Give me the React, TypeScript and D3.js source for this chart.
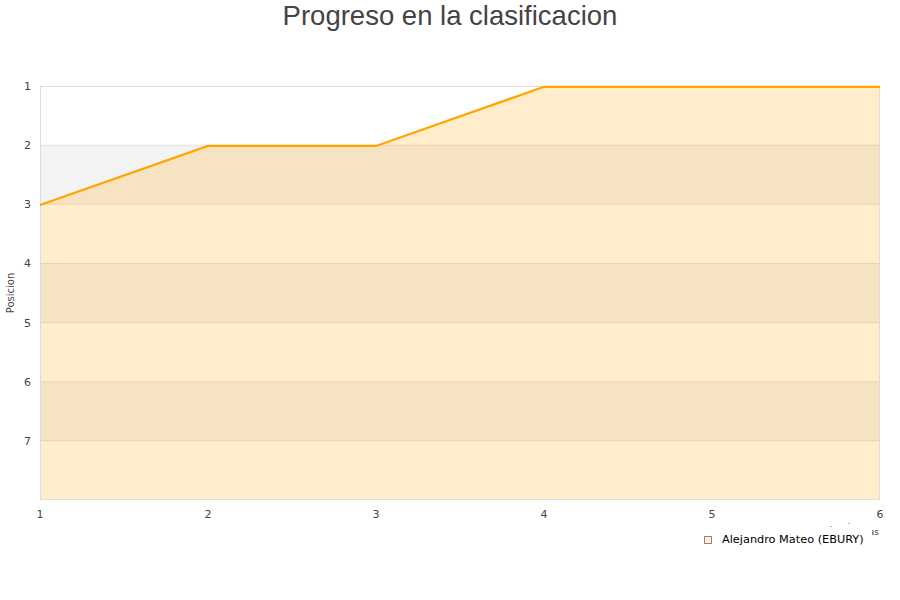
import React from "react";
import * as d3 from "d3";

const jornadas = [1, 2, 3, 4, 5, 6];
const posiciones = [3, 2, 2, 1, 1, 1];
const yTicks = [1, 2, 3, 4, 5, 6, 7];
const seriesName = "Alejandro Mateo (EBURY)";
const chartTitle = "Progreso en la clasificacion";
const yTitle = "Posicion";
const xTitle = "Jornadas";

export default function App() {
  const W = 900, H = 600;
  const left = 40, right = 880, top = 86, bottom = 500;
  const x = d3.scaleLinear().domain([1, 6]).range([left, right]);
  const y = d3.scaleLinear().domain([1, 8]).range([top, bottom]);
  const pts = jornadas.map((j, i) => [j, posiciones[i]] as [number, number]);
  const area = d3.area<[number, number]>().x(d => x(d[0])).y0(y(8)).y1(d => y(d[1]))(pts) || "";
  const line = d3.line<[number, number]>().x(d => x(d[0])).y(d => y(d[1]) + 0.8)(pts) || "";
  const bands = [1, 2, 3, 4, 5, 6, 7];
  const font = "'DejaVu Sans', sans-serif";
  return (
    <svg width={W} height={H} style={{ position: "absolute", left: 0, top: 0, background: "#fff" }}>
      <text x={450} y={25} textAnchor="middle" fontFamily="'Liberation Sans', Arial, sans-serif" fontSize={27.5} fill="#444">{chartTitle}</text>
      {bands.map(b => (
        <rect key={b} x={left} y={y(b)} width={right - left} height={y(b + 1) - y(b)} fill={b % 2 === 0 ? "#f3f3f3" : "#ffffff"} />
      ))}
      <path d={area} fill="#ffa500" fillOpacity={0.2} />
      {yTicks.slice(1).map(t => (
        <line key={t} x1={left} x2={right} y1={y(t)} y2={y(t)} stroke="#000" strokeOpacity={0.09} />
      ))}
      <rect x={left + 0.5} y={top + 0.5} width={right - left - 1} height={bottom - top - 1} fill="none" stroke="#ddd" />
      <path d={line} fill="none" stroke="#ffa500" strokeWidth={2.2} />
      {yTicks.map(t => (
        <text key={t} x={31} y={y(t) + 4} textAnchor="end" fontFamily={font} fontSize={11} fill="#444">{t}</text>
      ))}
      {jornadas.map(j => (
        <text key={j} x={x(j)} y={518} textAnchor="middle" fontFamily={font} fontSize={11} fill="#444">{j}</text>
      ))}
      <text transform={`translate(14,${(top + bottom) / 2}) rotate(-90)`} textAnchor="middle" fontFamily={font} fontSize={10} fill="#444">{yTitle}</text>
      <defs>
        <clipPath id="xtclip">
          <rect x={872} y={520} width={20} height={20} />
        </clipPath>
      </defs>
      <text x={879} y={535} textAnchor="end" fontFamily={font} fontSize={9} fill="#444" clipPath="url(#xtclip)">{xTitle}</text>
      <rect x={830.5} y={526} width={1} height={1} fill="#666" />
      <rect x={848.5} y={523} width={1} height={1} fill="#666" />
      <rect x={704.5} y={536.5} width={7} height={7} fill="#ffedcc" stroke="#888" />
      <text x={722} y={543} fontFamily={font} fontSize={11.3} fill="#000">{seriesName}</text>
    </svg>
  );
}
